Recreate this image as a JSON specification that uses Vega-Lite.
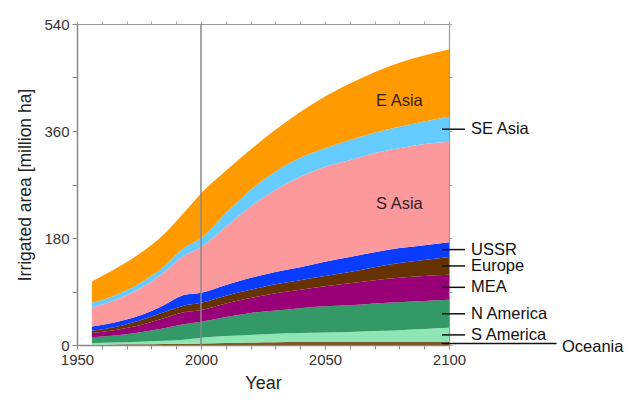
{
  "$schema": "https://vega.github.io/schema/vega-lite/v6.json",
  "autosize": "none",
  "width": 372,
  "height": 321,
  "padding": {"left": 77, "top": 24, "right": 180, "bottom": 55},
  "background": "white",
  "config": {
    "font": "Liberation Sans",
    "view": {"stroke": null},
    "axis": {
      "grid": false,
      "zindex": 1,
      "domainColor": "#888888",
      "domainWidth": 1.5,
      "tickColor": "#888888",
      "labelColor": "#333333",
      "labelFontSize": 15,
      "titleFontSize": 18,
      "titleFontWeight": "normal",
      "titleColor": "#222222",
      "labelOverlap": false,
      "labelFlush": false
    }
  },
  "data": {
    "values": [
      {"year": 1956, "Oceania": 0.5, "S America": 2.5, "N America": 10, "MEA": 7, "Europe": 4, "USSR": 7, "S Asia": 32, "SE Asia": 8, "E Asia": 36},
      {"year": 1965, "Oceania": 1, "S America": 3, "N America": 12, "MEA": 9, "Europe": 5, "USSR": 8, "S Asia": 37, "SE Asia": 8, "E Asia": 44},
      {"year": 1975, "Oceania": 1.2, "S America": 4.3, "N America": 15.5, "MEA": 12, "Europe": 8, "USSR": 8, "S Asia": 45, "SE Asia": 9, "E Asia": 50},
      {"year": 1985, "Oceania": 1.7, "S America": 5.3, "N America": 21, "MEA": 17, "Europe": 10, "USSR": 12, "S Asia": 55, "SE Asia": 10, "E Asia": 54},
      {"year": 1993, "Oceania": 2, "S America": 7, "N America": 26, "MEA": 20, "Europe": 11, "USSR": 18, "S Asia": 66, "SE Asia": 13, "E Asia": 59},
      {"year": 2000, "Oceania": 2.5, "S America": 9.5, "N America": 27, "MEA": 20, "Europe": 12, "USSR": 17, "S Asia": 77, "SE Asia": 15, "E Asia": 75},
      {"year": 2010, "Oceania": 3.3, "S America": 11.7, "N America": 32, "MEA": 23, "Europe": 13, "USSR": 18, "S Asia": 98, "SE Asia": 23, "E Asia": 71},
      {"year": 2020, "Oceania": 4, "S America": 13, "N America": 37, "MEA": 25, "Europe": 14, "USSR": 20, "S Asia": 120, "SE Asia": 28, "E Asia": 68},
      {"year": 2030, "Oceania": 4.5, "S America": 14.5, "N America": 39, "MEA": 29, "Europe": 15, "USSR": 21, "S Asia": 138, "SE Asia": 31, "E Asia": 70},
      {"year": 2040, "Oceania": 5, "S America": 15, "N America": 42, "MEA": 31, "Europe": 16, "USSR": 22, "S Asia": 152, "SE Asia": 32, "E Asia": 77},
      {"year": 2050, "Oceania": 5, "S America": 16, "N America": 44, "MEA": 34, "Europe": 17, "USSR": 24, "S Asia": 160, "SE Asia": 31, "E Asia": 87},
      {"year": 2060, "Oceania": 5, "S America": 17, "N America": 45, "MEA": 37, "Europe": 19, "USSR": 25, "S Asia": 163, "SE Asia": 34, "E Asia": 95},
      {"year": 2070, "Oceania": 5, "S America": 18.5, "N America": 46.5, "MEA": 39, "Europe": 22, "USSR": 25, "S Asia": 167, "SE Asia": 34, "E Asia": 102},
      {"year": 2080, "Oceania": 5, "S America": 20, "N America": 47, "MEA": 41, "Europe": 25, "USSR": 25, "S Asia": 168, "SE Asia": 36, "E Asia": 108},
      {"year": 2090, "Oceania": 5, "S America": 22, "N America": 47, "MEA": 42, "Europe": 27, "USSR": 25, "S Asia": 170, "SE Asia": 38, "E Asia": 111},
      {"year": 2100, "Oceania": 5, "S America": 24, "N America": 47, "MEA": 42, "Europe": 30, "USSR": 25, "S Asia": 169, "SE Asia": 42, "E Asia": 113}
    ]
  },
  "transform": [
    {"fold": ["Oceania", "S America", "N America", "MEA", "Europe", "USSR", "S Asia", "SE Asia", "E Asia"], "as": ["region", "area"]},
    {"calculate": "indexof(['Oceania','S America','N America','MEA','Europe','USSR','S Asia','SE Asia','E Asia'], datum.region)", "as": "rank"},
    {"stack": "area", "groupby": ["year"], "sort": [{"field": "rank", "order": "ascending"}], "as": ["lo", "hi"]},
    {"calculate": "(datum.lo + datum.hi) / 2", "as": "mid"}
  ],
  "resolve": {"axis": {"x": "independent", "y": "independent"}},
  "layer": [
    {
      "mark": {"type": "area", "interpolate": "monotone"},
      "encoding": {
        "x": {
          "field": "year", "type": "quantitative",
          "scale": {"domain": [1950, 2100], "nice": false, "zero": false},
          "axis": {
            "orient": "bottom",
            "values": [1950, 1960, 1970, 1980, 1990, 2000, 2010, 2020, 2030, 2040, 2050, 2060, 2070, 2080, 2090, 2100],
            "format": "d",
            "labelExpr": "datum.value % 50 === 0 ? datum.label : ''",
            "tickSize": 4,
            "labelPadding": 3,
            "title": "Year",
            "titlePadding": 7
          }
        },
        "y": {
          "field": "lo", "type": "quantitative",
          "scale": {"domain": [0, 540], "nice": false},
          "axis": {
            "orient": "left",
            "values": [0, 90, 180, 270, 360, 450, 540],
            "labelExpr": "datum.value % 180 === 0 ? datum.label : ''",
            "tickSize": 5,
            "labelPadding": 3,
            "title": "Irrigated area [million ha]",
            "titleFontSize": 17.5,
            "titlePadding": 9
          }
        },
        "y2": {"field": "hi"},
        "color": {
          "field": "region", "type": "nominal",
          "scale": {
            "domain": ["Oceania", "S America", "N America", "MEA", "Europe", "USSR", "S Asia", "SE Asia", "E Asia"],
            "range": ["#7d5a2c", "#8ee6b4", "#339966", "#990077", "#663300", "#0a3cff", "#fc999c", "#66ccff", "#ff9a00"]
          },
          "legend": null
        }
      }
    },
    {
      "data": {"values": [{"year": 2000}]},
      "mark": {"type": "rule", "color": "#888888", "strokeWidth": 1.5},
      "encoding": {
        "x": {"field": "year", "type": "quantitative", "scale": {"domain": [1950, 2100], "nice": false, "zero": false}, "axis": null}
      }
    },
    {
      "mark": {"type": "point", "opacity": 0},
      "encoding": {
        "x": {
          "field": "year", "type": "quantitative",
          "scale": {"domain": [1950, 2100], "nice": false, "zero": false},
          "axis": {
            "orient": "top",
            "values": [1950, 1960, 1970, 1980, 1990, 2000, 2010, 2020, 2030, 2040, 2050, 2060, 2070, 2080, 2090, 2100],
            "labels": false, "title": null, "tickSize": 3,
            "domainColor": "#999999", "tickColor": "#aaaaaa", "domainWidth": 1.2
          }
        },
        "y": {
          "field": "hi", "type": "quantitative",
          "scale": {"domain": [0, 540], "nice": false},
          "axis": {
            "orient": "right",
            "values": [0, 90, 180, 270, 360, 450, 540],
            "labels": false, "title": null, "tickSize": 3,
            "domainColor": "#999999", "tickColor": "#aaaaaa", "domainWidth": 1.2
          }
        }
      }
    },
    {
      "transform": [
        {"filter": "datum.year === 2100 && datum.region !== 'E Asia' && datum.region !== 'S Asia' && datum.region !== 'Oceania'"}
      ],
      "mark": {"type": "tick", "orient": "horizontal", "size": 23, "thickness": 1.5, "color": "#111111", "xOffset": 4.5, "opacity": 1},
      "encoding": {
        "x": {"field": "year", "type": "quantitative", "scale": {"domain": [1950, 2100], "nice": false, "zero": false}, "axis": null},
        "y": {"field": "mid", "type": "quantitative", "scale": {"domain": [0, 540], "nice": false}, "axis": null}
      }
    },
    {
      "transform": [{"filter": "datum.year === 2100 && datum.region === 'Oceania'"}],
      "mark": {"type": "tick", "orient": "horizontal", "size": 115, "thickness": 1.5, "color": "#111111", "xOffset": 50, "opacity": 1},
      "encoding": {
        "x": {"field": "year", "type": "quantitative", "scale": {"domain": [1950, 2100], "nice": false, "zero": false}, "axis": null},
        "y": {"field": "mid", "type": "quantitative", "scale": {"domain": [0, 540], "nice": false}, "axis": null}
      }
    },
    {
      "transform": [
        {"filter": "datum.year === 2100 && datum.region !== 'E Asia' && datum.region !== 'S Asia' && datum.region !== 'Oceania'"}
      ],
      "mark": {"type": "text", "align": "left", "baseline": "middle", "dx": 22, "fontSize": 16.5, "color": "#111111"},
      "encoding": {
        "x": {"field": "year", "type": "quantitative", "scale": {"domain": [1950, 2100], "nice": false, "zero": false}, "axis": null},
        "y": {"field": "mid", "type": "quantitative", "scale": {"domain": [0, 540], "nice": false}, "axis": null},
        "text": {"field": "region"}
      }
    },
    {
      "transform": [{"filter": "datum.year === 2100 && datum.region === 'Oceania'"}],
      "mark": {"type": "text", "align": "left", "baseline": "middle", "dx": 113, "dy": 3, "fontSize": 16.5, "color": "#111111"},
      "encoding": {
        "x": {"field": "year", "type": "quantitative", "scale": {"domain": [1950, 2100], "nice": false, "zero": false}, "axis": null},
        "y": {"field": "mid", "type": "quantitative", "scale": {"domain": [0, 540], "nice": false}, "axis": null},
        "text": {"field": "region"}
      }
    },
    {
      "transform": [{"filter": "datum.year === 2080 && (datum.region === 'E Asia' || datum.region === 'S Asia')"}],
      "mark": {"type": "text", "align": "center", "baseline": "middle", "dy": 6, "fontSize": 16.5, "color": "#000000", "opacity": 0.8},
      "encoding": {
        "x": {"field": "year", "type": "quantitative", "scale": {"domain": [1950, 2100], "nice": false, "zero": false}, "axis": null},
        "y": {"field": "mid", "type": "quantitative", "scale": {"domain": [0, 540], "nice": false}, "axis": null},
        "text": {"field": "region"}
      }
    }
  ]
}
